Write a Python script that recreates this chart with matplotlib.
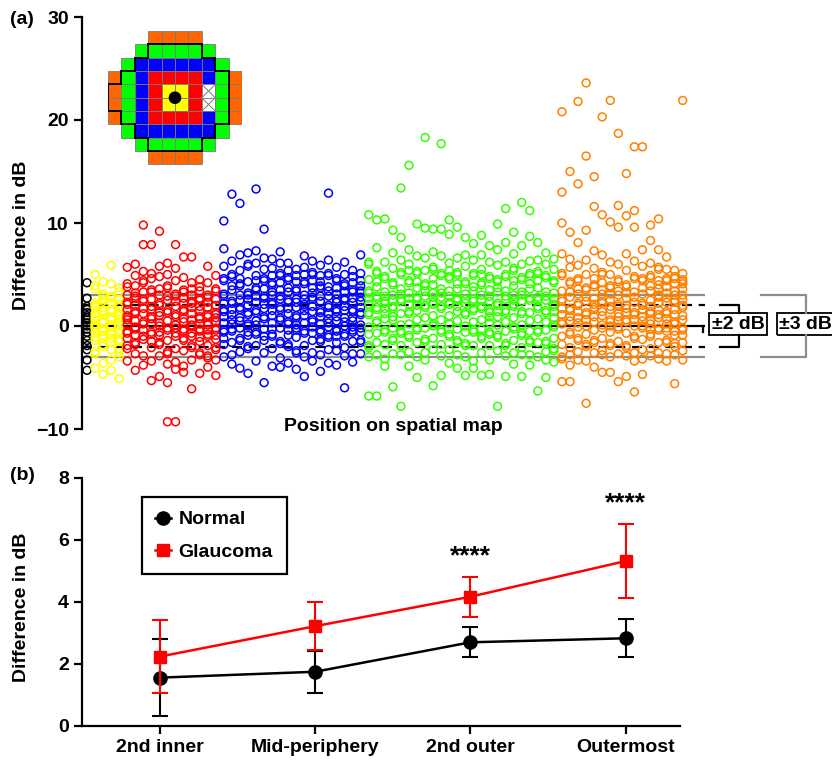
import matplotlib
matplotlib.use("Agg")
import matplotlib.pyplot as plt
from matplotlib.patches import Rectangle, Polygon, Circle
from matplotlib.lines import Line2D

plt.rcParams['font.family'] = ['Liberation Sans', 'DejaVu Sans']
plt.rcParams['font.weight'] = 'bold'
plt.rcParams['axes.labelweight'] = 'bold'

# ---------------- data: panel (a) ----------------
center_vals = [[4.2, 2.7, 1.9, 1.6, 1.3, 1.0, 0.6, 0.3, 0.0, -0.3, -0.6, -1.0, -1.4, -1.9, -2.3, -3.3, -4.3, 0.8]]

inner2_vals = [
    [5.0, 3.9, 3.6, 2.2, 2.0, 1.8, 0.9, 0.2, 0.0, -0.2, -1.1, -1.4, -2.5, -2.7, -4.1, 1.2, 0.6, -0.6],
    [4.3, 3.1, 2.6, 2.4, 1.5, 1.1, 0.3, -0.3, -0.5, -0.9, -1.8, -2.0, -3.6, -4.7, 1.4, 0.5, -1.2, 2.9],
    [5.9, 4.1, 2.9, 2.7, 1.6, 1.4, 0.8, 0.6, -0.1, -0.6, -0.8, -1.6, -2.3, -3.3, -4.3, 2.3, 0.1, -1.2],
    [3.7, 3.3, 2.1, 1.8, 1.2, 0.7, 0.4, -0.4, -0.7, -1.3, -1.5, -2.2, -3.0, -5.1, 2.6, 0.1, -2.6, 1.0],
]

inner_vals = [
    [5.7, 4.1, 3.8, 2.3, 2.1, 1.0, 0.8, 0.6, -0.5, -0.7, -1.9, -2.2, -3.4, 3.0, 1.6, 0.1, -1.2],
    [6.0, 4.9, 3.2, 2.9, 2.7, 1.4, 1.2, -0.1, -0.3, -1.6, -1.8, -2.7, -4.3, 0.5, 2.0, 3.9, -0.9],
    [9.8, 7.9, 5.3, 4.4, 4.2, 2.6, 2.4, 1.2, 0.4, 0.2, -1.0, -1.3, -2.9, -3.8, 1.7, 3.3, -0.4],
    [7.9, 5.1, 4.6, 3.5, 3.3, 1.9, 1.6, 0.9, 0.7, -0.6, -0.8, -2.1, -3.4, -5.3, 2.6, 0.2, -1.5],
    [9.2, 5.8, 4.8, 3.6, 2.2, 2.0, 1.3, 0.3, 0.0, -0.6, -1.6, -1.8, -2.9, -4.9, 3.0, 1.0, -0.9],
    [6.1, 5.0, 3.9, 3.7, 2.5, 1.5, 1.3, 0.5, -0.2, -0.4, -1.4, -2.5, -2.7, -3.7, -5.5, -9.3, 2.9],
    [7.9, 5.6, 4.4, 3.1, 2.9, 1.9, 1.1, 0.9, 0.1, -0.7, -1.0, -2.2, -3.5, -4.2, -9.3, 2.4, -0.2],
    [6.7, 4.7, 3.5, 3.3, 2.2, 1.6, 1.4, 0.4, -0.3, -1.2, -1.4, -2.4, -3.9, -4.5, 2.7, 0.7, -0.5],
    [6.7, 4.2, 3.6, 2.4, 2.2, 1.8, 0.6, 0.1, -0.1, -1.0, -1.9, -2.1, -3.3, -6.1, 1.2, 3.0, -0.7],
    [4.5, 3.8, 2.7, 2.5, 1.5, 0.9, 0.7, -0.3, -0.5, -1.5, -2.6, -2.8, -4.6, 1.9, 0.2, 3.4, -1.1],
    [5.8, 4.2, 3.0, 2.8, 1.8, 1.1, 0.3, 0.1, -0.8, -1.0, -1.9, -2.9, -3.1, -4.0, 2.3, 0.9, -0.4],
    [4.9, 3.6, 3.4, 2.0, 1.3, 1.1, 0.4, -0.2, -0.4, -1.3, -2.1, -2.3, -3.3, -4.8, 2.6, 0.8, -0.9],
]

mid_vals = [
    [10.2, 7.5, 5.8, 4.6, 4.4, 3.1, 2.9, 1.6, 1.4, 0.3, -0.4, -0.6, -1.8, -3.0, 2.2, 0.9, -1.2],
    [12.8, 6.3, 5.0, 4.8, 3.5, 2.4, 2.2, 1.1, 0.6, -0.3, -0.5, -1.6, -2.8, -3.7, 3.9, 1.6, 0.2],
    [11.9, 6.9, 5.4, 4.1, 3.9, 3.0, 1.8, 1.6, 0.5, -0.2, -1.2, -1.4, -2.5, -4.1, 2.5, 0.8, 4.6],
    [7.1, 6.0, 5.8, 4.3, 3.2, 3.0, 2.0, 1.3, 0.2, 0.0, -0.9, -2.0, -2.2, -4.6, 1.1, 2.6, -0.6],
    [13.3, 7.3, 6.1, 4.9, 3.7, 3.5, 2.3, 1.5, 1.3, 0.5, -0.6, -0.8, -1.9, -3.4, 2.9, 0.1, 4.4],
    [9.4, 6.6, 5.5, 4.6, 4.4, 2.9, 2.7, 1.7, 0.9, 0.7, -0.3, -1.4, -2.6, -5.5, 3.6, 2.1, -1.0],
    [6.5, 5.6, 4.2, 4.0, 3.0, 2.3, 2.1, 1.0, 0.3, -0.8, -1.0, -2.2, -3.9, 1.5, 3.3, -0.3, 4.9],
    [7.2, 6.1, 5.1, 4.9, 3.5, 2.6, 1.8, 1.6, 0.6, -0.2, -1.5, -1.7, -3.1, -4.0, 2.9, 0.8, 4.2],
    [6.1, 4.7, 4.5, 3.3, 2.5, 2.3, 1.2, 0.4, 0.2, -0.9, -1.8, -2.0, -3.6, 1.7, 3.7, -0.4, 5.4],
    [5.5, 4.9, 3.6, 3.4, 2.6, 1.8, 1.0, 0.8, -0.4, -1.1, -2.4, -2.6, -4.2, 2.3, 0.1, 4.3, -0.2],
    [6.8, 5.7, 4.3, 4.1, 3.0, 2.1, 1.9, 1.0, 0.3, -0.5, -0.7, -1.9, -3.0, -4.9, 2.6, 1.5, 5.0],
    [6.3, 5.2, 5.0, 3.7, 2.8, 2.6, 1.4, 0.6, 0.4, -0.7, -1.4, -2.6, -3.4, 1.9, 3.2, -0.1, 4.4],
    [5.9, 4.9, 3.9, 3.7, 2.4, 1.5, 1.3, 0.2, -0.4, -1.3, -1.5, -2.8, -4.4, 2.9, 0.9, 4.3, -0.6],
    [12.9, 6.4, 5.1, 4.9, 3.8, 2.9, 2.0, 1.8, 0.7, -0.1, -0.9, -1.1, -2.3, -3.6, 3.4, 1.2, 0.3],
    [5.7, 4.6, 4.4, 3.1, 2.3, 1.6, 1.4, 0.5, -0.3, -0.5, -1.6, -2.4, -3.8, 2.6, 0.9, 3.7, -1.0],
    [6.2, 5.0, 4.1, 3.9, 2.7, 2.5, 1.5, 0.8, 0.0, -0.8, -1.0, -2.1, -2.9, -6.0, 3.3, 1.9, 0.4],
    [5.4, 4.8, 3.5, 3.3, 2.3, 1.6, 1.4, 0.5, -0.4, -0.6, -1.5, -2.7, -3.5, 2.7, 0.8, 4.2, -0.1],
    [6.9, 5.1, 4.4, 3.4, 3.2, 2.4, 1.3, 1.1, 0.1, -0.6, -1.4, -1.6, -2.7, 2.8, 1.8, 3.9, -0.2],
]

outer2_vals = [
    [10.8, 6.2, 6.0, 4.5, 3.4, 3.2, 2.1, 1.3, 1.1, -0.1, -0.8, -1.9, -2.1, -3.0, -6.8, 2.7],
    [10.3, 7.6, 5.3, 5.1, 3.8, 2.9, 2.7, 1.6, 0.5, 0.3, -0.7, -1.6, -2.8, -6.8, 1.8, 4.3],
    [10.4, 6.2, 4.8, 4.6, 3.3, 2.4, 2.2, 1.2, 0.7, -0.4, -0.6, -1.8, -3.2, -3.9, 1.7, 2.9],
    [9.3, 7.1, 5.6, 4.2, 4.0, 3.0, 1.9, 1.7, 0.6, -0.2, -1.2, -1.4, -2.7, -5.9, 2.5, 0.9],
    [13.4, 8.6, 6.4, 5.2, 5.0, 3.6, 2.6, 2.4, 1.2, 0.1, -0.5, -0.7, -1.9, -2.8, -7.8, 3.1],
    [15.6, 7.4, 6.0, 4.4, 4.2, 3.2, 2.1, 1.4, 1.2, 0.2, -0.9, -1.1, -2.5, -3.9, 2.7, 5.4],
    [9.9, 6.8, 5.3, 5.1, 3.7, 2.8, 2.6, 1.5, 0.6, -0.2, -0.4, -1.6, -3.0, -5.0, 2.0, 4.3],
    [18.3, 9.5, 6.6, 5.4, 4.1, 3.9, 2.9, 2.0, 1.8, 0.8, -0.2, -1.3, -1.5, -2.6, -3.3, 3.4],
    [9.4, 7.2, 5.7, 5.5, 4.0, 3.2, 2.3, 2.1, 1.0, 0.2, 0.0, -1.2, -2.3, -5.8, 2.8, 4.6],
    [17.7, 9.4, 6.8, 5.1, 4.9, 3.6, 2.8, 1.9, 1.7, 0.6, -0.4, -0.6, -1.8, -2.9, -4.8, 3.2],
    [10.3, 8.9, 6.1, 4.8, 4.6, 3.4, 2.3, 2.1, 1.0, 0.2, -0.8, -1.0, -2.3, -3.6, 2.9, 5.4],
    [9.6, 6.6, 5.2, 5.0, 3.6, 2.7, 2.5, 1.4, 0.5, -0.3, -1.4, -1.6, -2.8, -4.1, 1.9, 4.1],
    [8.6, 6.9, 5.8, 4.3, 4.1, 3.1, 2.2, 1.3, 1.1, 0.0, -0.6, -1.7, -1.9, -3.0, -4.8, 2.6],
    [8.0, 6.4, 5.1, 4.9, 3.4, 2.6, 2.4, 1.5, 0.4, -0.4, -0.6, -1.9, -3.4, -4.1, 1.7, 3.8],
    [8.8, 6.9, 5.5, 4.2, 4.0, 3.0, 1.9, 1.7, 0.6, -0.3, -1.0, -1.2, -2.6, -4.8, 2.5, 5.0],
    [7.8, 6.2, 4.8, 4.6, 3.5, 2.4, 1.5, 1.3, 0.3, -0.6, -0.8, -1.9, -3.3, -4.7, 2.9, 0.9],
    [9.9, 7.4, 5.9, 4.5, 4.3, 3.3, 2.2, 2.0, 0.9, 0.1, -0.9, -1.1, -2.4, -7.8, 3.7, 1.4],
    [11.4, 8.1, 6.2, 5.0, 4.8, 3.4, 2.6, 1.5, 1.3, 0.4, -0.5, -1.7, -1.9, -2.9, -4.9, 2.9],
    [9.1, 7.0, 5.6, 5.4, 3.9, 3.0, 2.1, 1.9, 0.8, -0.1, -0.3, -1.4, -2.6, -3.7, 2.5, 4.4],
    [12.0, 7.8, 6.0, 4.7, 4.5, 3.3, 2.4, 1.4, 1.2, 0.1, -0.7, -0.9, -2.1, -2.8, -4.9, 3.0],
    [11.2, 8.7, 6.3, 5.1, 4.9, 3.6, 2.7, 2.5, 1.3, 0.5, -0.5, -1.4, -1.6, -2.8, -3.8, 4.1],
    [8.1, 6.4, 5.3, 5.1, 3.7, 2.8, 1.9, 1.7, 0.7, -0.4, -0.6, -1.6, -3.0, -6.3, 2.5, 4.4],
    [7.1, 6.0, 4.9, 4.7, 3.3, 2.5, 1.5, 1.3, 0.4, -0.4, -1.5, -1.7, -2.5, -3.3, -5.0, 2.9],
    [6.5, 5.5, 4.4, 4.2, 3.2, 2.1, 1.9, 0.8, 0.1, -0.1, -1.2, -2.2, -2.4, -3.5, 2.7, 1.4],
]

outermost_vals = [
    [20.8, 13.0, 10.0, 7.0, 5.1, 4.9, 3.4, 2.6, 2.4, 1.1, 0.4, 0.2, -1.0, -1.8, -3.0, -3.2, -5.4, 1.7],
    [15.0, 9.1, 6.5, 5.7, 4.3, 4.1, 2.8, 1.7, 1.5, 0.5, -0.6, -0.8, -2.1, -2.8, -3.8, -5.4, 3.3, 0.9],
    [21.8, 13.8, 8.1, 5.9, 4.6, 4.4, 3.1, 2.2, 2.0, 0.8, -0.1, -1.2, -1.4, -2.5, -3.3, 1.4, 3.6, 0.3],
    [23.6, 16.5, 9.3, 6.4, 5.0, 3.7, 3.5, 2.4, 1.3, 1.1, 0.0, -0.8, -1.8, -2.0, -3.4, -7.5, 2.8, 0.6],
    [14.5, 11.6, 7.3, 5.6, 4.0, 3.8, 2.7, 1.8, 1.6, 0.4, -0.4, -1.4, -1.6, -2.6, -4.0, 2.1, 4.6, 0.9],
    [20.3, 10.8, 6.9, 5.2, 5.0, 3.5, 2.4, 2.2, 1.0, 0.1, -0.2, -1.2, -2.4, -2.8, -4.5, 3.1, 1.4, 4.2],
    [21.9, 10.1, 6.2, 5.0, 3.9, 3.7, 2.5, 1.6, 0.6, 0.4, -0.6, -1.7, -1.9, -3.0, -4.5, 1.9, 3.1, 0.0],
    [18.7, 11.7, 9.6, 6.0, 4.5, 4.3, 3.0, 2.1, 1.9, 0.9, -0.1, -0.3, -1.5, -2.7, -5.4, 1.2, 3.4, 0.5],
    [14.8, 10.7, 7.0, 5.4, 4.0, 3.8, 2.7, 1.7, 0.6, 0.4, -0.7, -1.9, -2.1, -2.9, -4.9, 1.3, 3.2, 2.0],
    [17.4, 11.2, 9.6, 6.3, 4.8, 4.6, 3.3, 2.3, 1.3, 1.1, 0.0, -1.0, -1.2, -2.6, -3.4, -6.4, 2.8, 0.6],
    [17.4, 7.4, 5.8, 4.6, 4.4, 3.1, 2.2, 2.0, 0.9, 0.0, -0.2, -1.3, -2.3, -3.2, -4.7, 1.6, 3.7, 0.5],
    [9.8, 8.3, 6.1, 4.9, 4.7, 3.4, 2.5, 1.4, 1.2, 0.2, -0.8, -1.0, -2.2, -2.9, 1.9, 3.9, 0.5, -0.3],
    [10.4, 7.4, 5.7, 5.5, 4.0, 3.0, 2.8, 1.6, 0.8, -0.2, -0.4, -1.6, -2.6, -3.2, 2.2, 3.6, 1.1, 4.4],
    [6.7, 5.5, 4.6, 4.4, 3.2, 2.3, 1.4, 1.2, 0.2, -0.5, -1.4, -1.6, -2.7, -3.4, 2.7, 0.7, 3.8, -0.2],
    [5.4, 4.8, 4.6, 3.4, 2.5, 2.3, 1.1, 0.4, 0.2, -0.9, -1.7, -2.0, -2.8, -5.6, 3.0, 1.6, 4.1, -0.5],
    [21.9, 5.1, 4.3, 4.1, 3.0, 2.0, 1.8, 0.6, -0.2, -0.4, -1.6, -2.4, -3.3, 2.6, 1.0, 3.6, 4.5, -0.9],
]

scatter_groups = [center_vals, inner2_vals, inner_vals, mid_vals, outer2_vals, outermost_vals]
scatter_colors = ['#000000', '#FFFF00', '#FF0000', '#0000FF', '#33FF00', '#FF8000']

limit_levels = [2, 3]
limit_labels = ['\u00b12 dB', '\u00b13 dB']

# ---------------- data: inset map ----------------
map_rows = [
    "...OOOO...",
    "..GGGGGG..",
    ".GBBBBBBG.",
    "OGBRRRRBGO",
    "OGBRYYRXGO",
    "OGBRYYRXGO",
    "OGBRRRRBGO",
    ".GBBBBBBG.",
    "..GGGGGG..",
    "...OOOO...",
]
map_colors = {'O': '#FF6600', 'G': '#00FF00', 'B': '#0000FF', 'R': '#FF0000', 'Y': '#FFFF00', 'X': '#FFFFFF'}

# ---------------- data: panel (b) ----------------
regions = ['2nd inner', 'Mid-periphery', '2nd outer', 'Outermost']
normal_mean = [1.56, 1.75, 2.70, 2.83]
normal_sd = [1.25, 0.68, 0.49, 0.62]
glaucoma_mean = [2.24, 3.22, 4.17, 5.32]
glaucoma_sd = [1.17, 0.77, 0.65, 1.20]
sig_labels = ['', '', '****', '****']

# ---------------- figure ----------------
W, H = 832, 760
fig = plt.figure(figsize=(W / 100, H / 100), dpi=100)


def rect(l, t, r, b):
    return [l / W, 1 - b / H, (r - l) / W, (b - t) / H]


# ===== panel (a) =====
axa = fig.add_axes(rect(82, 17, 705, 429))
axa.set_ylim(-10, 30)
axa.set_xlim(-0.62, 76.77)

axa.axhline(0, color='black', lw=1.6, zorder=1)
for s in (1, -1):
    axa.axhline(s * limit_levels[0], color='black', lw=1.6, ls=(0, (4.5, 3)), zorder=1)
    axa.axhline(s * limit_levels[1], color='#8c8c8c', lw=1.6, zorder=1)

pos = 0
for vals, col in zip(scatter_groups, scatter_colors):
    xs, ys = [], []
    for column in vals:
        xs.extend([pos] * len(column))
        ys.extend(column)
        pos += 1
    axa.scatter(xs, ys, s=32, facecolors='none', edgecolors=col, linewidths=1.1, zorder=2)

for sp in ('top', 'right', 'bottom'):
    axa.spines[sp].set_visible(False)
axa.spines['left'].set_linewidth(1.6)
axa.set_xticks([])
axa.set_yticks([-10, 0, 10, 20, 30])
axa.set_yticklabels(['\u221210', '0', '10', '20', '30'])
axa.tick_params(axis='y', direction='out', length=6, width=1.6, labelsize=14)
axa.set_ylabel('Difference in dB', fontsize=14)
axa.yaxis.set_label_coords(-0.083, 0.47)
axa.text(0.5, 0.005, 'Position on spatial map', transform=axa.transAxes,
         ha='center', va='center', fontsize=14)

# brackets and boxes
tr = axa.get_yaxis_transform()
axa.plot([0.9968, 0.9968], [0, -0.6], color='black', lw=1.6, transform=tr, clip_on=False)
axa.plot([1.024, 1.0546, 1.0546], [2, 2, 1.23], color='black', lw=1.6, transform=tr, clip_on=False)
axa.plot([1.024, 1.0546, 1.0546], [-2, -2, -0.87], color='black', lw=1.6, transform=tr, clip_on=False)
axa.plot([1.0899, 1.1621, 1.1621], [3, 3, 1.23], color='#8c8c8c', lw=1.6, transform=tr, clip_on=False)
axa.plot([1.0899, 1.1621, 1.1621], [-3, -3, -0.87], color='#8c8c8c', lw=1.6, transform=tr, clip_on=False)
axa.add_patch(Rectangle((1.0064, -0.87), 0.0931, 2.10, transform=tr, fill=False,
                        edgecolor='black', lw=1.3, clip_on=False))
axa.add_patch(Rectangle((1.1156, -0.87), 0.14, 2.10, transform=tr, fill=False,
                        edgecolor='black', lw=1.3, clip_on=False))
axa.text(1.0538, 0.18, limit_labels[0], transform=tr, ha='center', va='center', fontsize=14, clip_on=False)
axa.text(1.1605, 0.18, limit_labels[1], transform=tr, ha='center', va='center', fontsize=14, clip_on=False)

# ===== inset map =====
axi = fig.add_axes(rect(108, 31, 242, 164.5))
axi.set_xlim(0, 10)
axi.set_ylim(10, 0)
axi.axis('off')
for r, row in enumerate(map_rows):
    for c, ch in enumerate(row):
        if ch == '.':
            continue
        axi.add_patch(Rectangle((c, r), 1, 1, facecolor=map_colors[ch], edgecolor='#7a7a7a', lw=0.6))
        if ch == 'X':
            axi.plot([c, c + 1], [r, r + 1], color='#7a7a7a', lw=0.7)
            axi.plot([c, c + 1], [r + 1, r], color='#7a7a7a', lw=0.7)
outline = [(3, 1), (7, 1), (7, 2), (8, 2), (8, 3), (9, 3), (9, 7), (8, 7), (8, 8), (7, 8), (7, 9),
           (3, 9), (3, 8), (2, 8), (2, 7), (1, 7), (1, 6), (0, 6), (0, 4), (1, 4), (1, 3), (2, 3),
           (2, 2), (3, 2)]
axi.add_patch(Polygon(outline, closed=True, fill=False, edgecolor='black', lw=1.4))
axi.add_patch(Circle((5, 5), 0.42, color='black'))

# ===== panel (b) =====
axb = fig.add_axes(rect(82, 478, 680, 726))
xb = list(range(len(regions)))
axb.errorbar(xb, normal_mean, yerr=normal_sd, fmt='-o', color='black', ms=9.5, lw=1.8,
             elinewidth=1.5, capsize=6, capthick=1.5, zorder=3, label='Normal')
axb.errorbar(xb, glaucoma_mean, yerr=glaucoma_sd, fmt='-s', color='#FF0000', ms=9, lw=1.8,
             elinewidth=1.5, capsize=6, capthick=1.5, zorder=4, label='Glaucoma')
for x, m, sd, lab in zip(xb, glaucoma_mean, glaucoma_sd, sig_labels):
    if lab:
        axb.text(x, m + sd + 0.43, lab, ha='center', va='baseline', fontsize=19)
axb.set_xlim(-0.502, 3.35)
axb.set_ylim(0, 8)
axb.set_xticks(xb)
axb.set_xticklabels(regions)
axb.set_yticks([0, 2, 4, 6, 8])
for sp in ('top', 'right'):
    axb.spines[sp].set_visible(False)
for sp in ('left', 'bottom'):
    axb.spines[sp].set_linewidth(1.6)
axb.tick_params(direction='out', length=6, width=1.6, labelsize=14)
axb.set_ylabel('Difference in dB', fontsize=14)
axb.yaxis.set_label_coords(-0.087, 0.48)

h_n = Line2D([], [], color='black', marker='o', ms=9.5, lw=1.8)
h_g = Line2D([], [], color='#FF0000', marker='s', ms=9, lw=1.8)
leg = axb.legend([h_n, h_g], ['Normal', 'Glaucoma'], loc='upper left', bbox_to_anchor=(0.1, 0.923),
                 borderaxespad=0, fancybox=False, framealpha=1, edgecolor='black', fontsize=14,
                 handlelength=0.8, handletextpad=0.4, borderpad=0.7, labelspacing=0.75)
leg.get_frame().set_linewidth(1.6)

fig.text(10 / W, 1 - 20 / H, '(a)', ha='left', va='center', fontsize=14)
fig.text(10 / W, 1 - 475 / H, '(b)', ha='left', va='center', fontsize=14)

fig.savefig('out.png', dpi=100)
